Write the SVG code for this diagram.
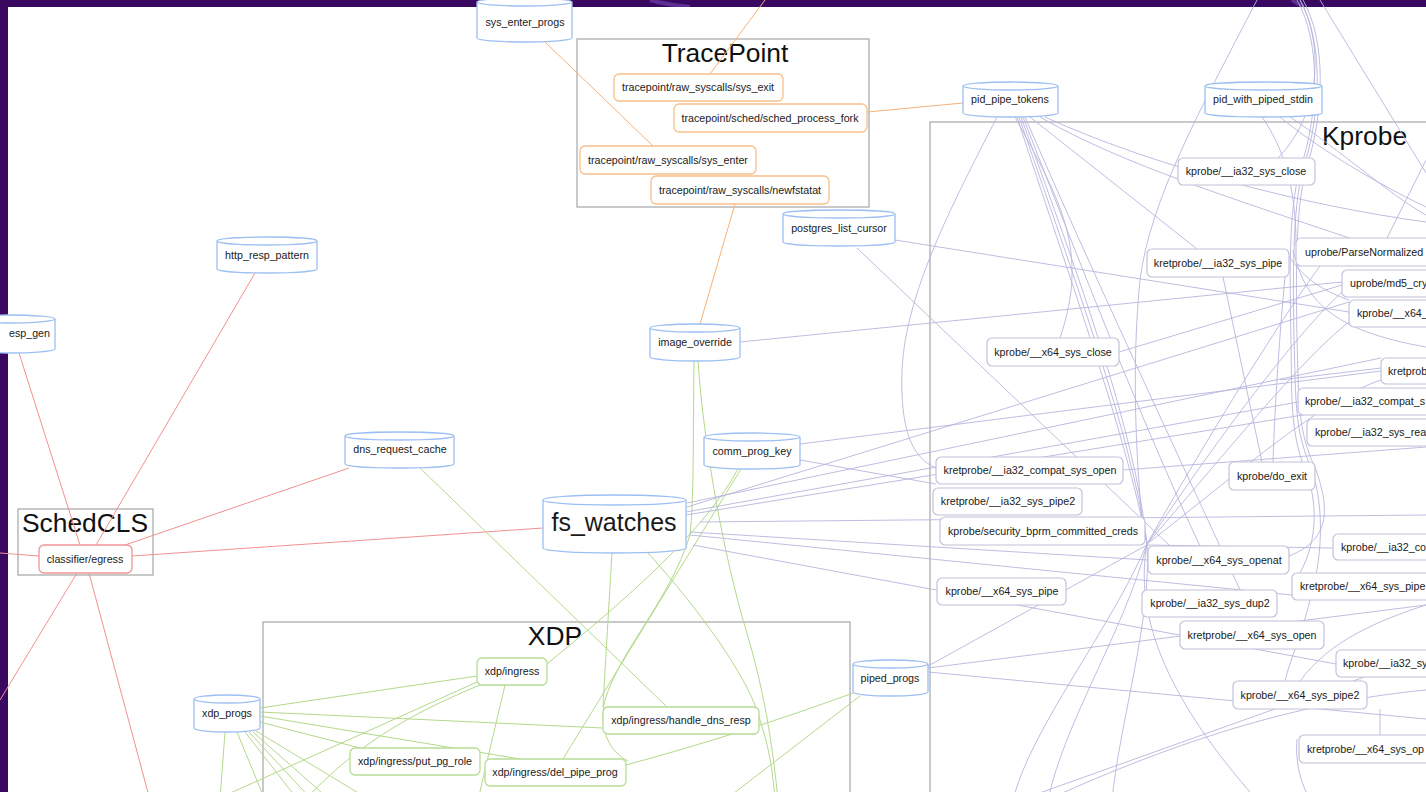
<svg xmlns="http://www.w3.org/2000/svg" width="1426" height="792" viewBox="0 0 1426 792">
<defs>
<style>
.t{font-family:"Liberation Sans",Arial,sans-serif;font-size:10.7px;fill:#1a1a1a;text-anchor:middle}
.ts{font-family:"Liberation Sans",Arial,sans-serif;font-size:10.7px;fill:#1a1a1a;text-anchor:start}
.title{font-family:"Liberation Sans",Arial,sans-serif;font-size:26.4px;fill:#111}
.cluster{fill:none;stroke:#a6a6a6;stroke-width:1.2}
.cyl{fill:#fff;stroke:#9dbff2;stroke-width:1.3}
.tp{fill:#fff;stroke:#f6c089;stroke-width:1.3}
.sc{fill:#fff;stroke:#ee9696;stroke-width:1.3}
.xd{fill:#fff;stroke:#b8dc94;stroke-width:1.3}
.kp{fill:#fff;stroke:#c2c2dc;stroke-width:1.2}
.eo{fill:none;stroke:#f7b27a;stroke-width:1}
.er{fill:none;stroke:#f19090;stroke-width:1}
.eg{fill:none;stroke:#b3d98a;stroke-width:1}
.el{fill:none;stroke:#b6b6de;stroke-width:0.9}
</style>
</defs>

<!-- slide frame -->
<rect x="0" y="0" width="1426" height="792" fill="#390961"/>
<path d="M650,0 C660,3 672,5 690,7" fill="none" stroke="#5d2f93" stroke-width="4"/>
<path d="M1292,0 C1296,3 1300,5 1304,7" fill="none" stroke="#5d2f93" stroke-width="4"/>
<rect x="8" y="7" width="1418" height="785" fill="#ffffff"/>

<!-- clusters -->
<g id="clusters">
<rect class="cluster" x="577" y="39" width="292" height="168"/>
<text class="title" x="725" y="62" text-anchor="middle">TracePoint</text>
<rect class="cluster" x="930" y="122" width="520" height="690"/>
<text class="title" x="1322" y="145">Kprobe</text>
<rect class="cluster" x="18" y="509" width="135" height="66"/>
<text class="title" x="85" y="532" text-anchor="middle">SchedCLS</text>
<rect class="cluster" x="263" y="622" width="587" height="190"/>
<text class="title" x="555" y="645" text-anchor="middle">XDP</text>
</g>

<!-- connectors -->
<g id="connectors">
<!-- tracepoint links -->
<path class="eo" d="M765,0 L710,74"/>
<path class="eo" d="M545,42 L653,146"/>
<path class="eo" d="M867,112 L963,103"/>
<path class="eo" d="M735,204 L700,324"/>
<!-- schedcls links -->
<path class="er" d="M19,353 L80,545"/>
<path class="er" d="M255,273 L96,545"/>
<path class="er" d="M349,468 L125,545"/>
<path class="er" d="M132,556 L543,528"/>
<path class="er" d="M0,553 L39,556"/>
<path class="er" d="M77,573 L0,700"/>
<path class="er" d="M89,573 L150,800"/>
<!-- xdp links -->
<path class="eg" d="M420,468 L667,707"/>
<path class="eg" d="M741,469 L563,759"/>
<path class="eg" d="M694,361 C693,440 694,500 690,535 C670,600 620,650 605,700 C598,730 610,752 628,761"/>
<path class="eg" d="M612,553 C608,620 605,670 603,707"/>
<path class="eg" d="M698,361 C704,450 725,560 746,630 C764,690 772,740 778,800"/>
<path class="eg" d="M738,469 C700,540 600,620 547,664"/>
<path class="eg" d="M648,553 C700,610 750,680 760,720 C770,750 773,775 775,800"/>
<path class="eg" d="M260,708 L477,676"/>
<path class="eg" d="M260,716 L520,759"/>
<path class="eg" d="M260,722 L360,748"/>
<path class="eg" d="M260,712 L603,728"/>
<path class="eg" d="M225,732 L220,800"/>
<path class="eg" d="M237,732 L265,800"/>
<path class="eg" d="M245,732 L298,800"/>
<path class="eg" d="M249,732 L312,800"/>
<path class="eg" d="M253,732 L330,800"/>
<path class="eg" d="M256,731 L370,800"/>
<path class="eg" d="M477,682 L215,800"/>
<path class="eg" d="M480,685 C420,710 360,740 305,800"/>
<path class="eg" d="M505,685 L478,800"/>
<path class="eg" d="M853,693 C780,720 700,745 626,765"/>
<path class="eg" d="M860,696 L725,800"/>
<!-- kprobe links -->
<path class="el" d="M997,117 C960,190 905,290 902,370 C900,430 912,458 936,468"/>
<path class="el" d="M1017,117 C1070,280 1125,430 1147,544 C1152,620 1120,720 1112,800"/>
<path class="el" d="M1019,117 C1075,280 1130,430 1147,544 C1125,630 1065,720 1048,800"/>
<path class="el" d="M1021,117 C1080,280 1135,430 1147,544 C1110,630 1030,730 1013,800"/>
<path class="el" d="M1023,117 C1090,290 1150,440 1200,546"/>
<path class="el" d="M1025,117 C1100,290 1190,480 1240,590"/>
<path class="el" d="M1045,117 C1150,165 1300,205 1426,222"/>
<path class="el" d="M1040,117 C1140,175 1290,215 1426,265"/>
<path class="el" d="M1030,117 L1197,249"/>
<path class="el" d="M1015,117 C1060,200 1090,250 1060,338"/>
<path class="el" d="M1257,0 C1200,110 1150,200 1140,280 C1132,360 1135,450 1143,530"/>
<path class="el" d="M1297,0 C1320,40 1320,110 1300,170 C1288,210 1290,280 1291,340 C1292,400 1290,430 1305,470 C1318,500 1318,540 1300,573"/>
<path class="el" d="M1300,0 C1323,40 1322,110 1303,170 C1292,210 1293,280 1294,340 C1296,400 1294,430 1312,470 C1325,510 1322,560 1310,600 C1300,640 1290,660 1285,681"/>
<path class="el" d="M1303,0 C1326,40 1325,110 1306,170 C1295,210 1296,280 1297,340 C1299,400 1297,430 1316,470 C1330,510 1330,540 1289,556"/>
<path class="el" d="M1300,0 C1322,40 1324,110 1278,158"/>
<path class="el" d="M1320,0 L1426,173"/>
<path class="el" d="M1387,238 L1426,160"/>
<path class="el" d="M1280,117 C1320,150 1380,185 1426,207"/>
<path class="el" d="M1290,117 C1340,150 1390,195 1426,215"/>
<path class="el" d="M1262,117 C1285,150 1296,190 1296,245"/>
<path class="el" d="M740,342 L1342,282"/>
<path class="el" d="M895,240 L1349,312"/>
<path class="el" d="M857,248 L1170,546"/>
<path class="el" d="M800,444 L1381,371"/>
<path class="el" d="M800,460 L936,484"/>
<path class="el" d="M687,507 L1349,302"/>
<path class="el" d="M687,503 L1381,358"/>
<path class="el" d="M686,512 L1298,402"/>
<path class="el" d="M686,515 L1426,395"/>
<path class="el" d="M700,522 L1426,515"/>
<path class="el" d="M690,532 L1148,560"/>
<path class="el" d="M690,535 L1292,595"/>
<path class="el" d="M693,545 L1336,664"/>
<path class="el" d="M928,666 L1147,545"/>
<path class="el" d="M928,668 L1426,605"/>
<path class="el" d="M928,672 L1426,719"/>
<path class="el" d="M1147,544 C1200,450 1280,320 1320,266"/>
<path class="el" d="M1147,544 C1210,450 1290,340 1342,292"/>
<path class="el" d="M1147,544 C1220,460 1300,360 1349,322"/>
<path class="el" d="M1147,544 C1230,480 1320,400 1381,380"/>
<path class="el" d="M1147,544 C1137,600 1150,680 1257,800"/>
<path class="el" d="M1147,545 L1333,548"/>
<path class="el" d="M1020,800 L1426,655"/>
<path class="el" d="M1047,800 C1200,730 1320,700 1426,690"/>
<path class="el" d="M1293,250 C1305,300 1330,330 1426,347"/>
<path class="el" d="M1287,253 C1300,275 1320,290 1349,300"/>
<path class="el" d="M1280,380 L1381,368"/>
<path class="el" d="M1380,709 L1380,735"/>
<path class="el" d="M1297,739 C1295,760 1300,782 1310,800"/>
<path class="el" d="M1426,605 C1380,620 1330,640 1300,681"/>
<path class="el" d="M1223,277 L1262,462"/>
<path class="el" d="M1273,462 C1275,400 1280,330 1285,277"/>
<path class="el" d="M1119,352 L1342,285"/>
<path class="el" d="M1123,470 L1426,447"/>
</g>

<!-- maps -->
<g id="sys_enter_progs"><path class="cyl" d="M477,2 A47.5,4 0 0 1 572,2 A47.5,4 0 0 1 477,2 M572,2 L572,38 A47.5,4 0 0 1 477,38 L477,2"/><text class="t" x="525" y="26">sys_enter_progs</text></g>
<g id="http_resp_pattern"><path class="cyl" d="M217,241 A50,4 0 0 1 317,241 A50,4 0 0 1 217,241 M317,241 L317,269 A50,4 0 0 1 217,269 L217,241"/><text class="t" x="267" y="259">http_resp_pattern</text></g>
<g id="resp_gen"><path class="cyl" d="M-40,319 A47.5,4 0 0 1 55,319 A47.5,4 0 0 1 -40,319 M55,319 L55,349 A47.5,4 0 0 1 -40,349 L-40,319"/><text class="ts" x="9" y="337">esp_gen</text></g>
<g id="dns_request_cache"><path class="cyl" d="M345,436 A54.5,4 0 0 1 454,436 A54.5,4 0 0 1 345,436 M454,436 L454,464 A54.5,4 0 0 1 345,464 L345,436"/><text class="t" x="400" y="453">dns_request_cache</text></g>
<g id="image_override"><path class="cyl" d="M650,328 A45,4 0 0 1 740,328 A45,4 0 0 1 650,328 M740,328 L740,357 A45,4 0 0 1 650,357 L650,328"/><text class="t" x="695" y="346">image_override</text></g>
<g id="comm_prog_key"><path class="cyl" d="M704,437 A48,4 0 0 1 800,437 A48,4 0 0 1 704,437 M800,437 L800,465 A48,4 0 0 1 704,465 L704,437"/><text class="t" x="752" y="455">comm_prog_key</text></g>
<g id="fs_watches"><path class="cyl" d="M543,500 A71.5,5 0 0 1 686,500 A71.5,5 0 0 1 543,500 M686,500 L686,548 A71.5,5 0 0 1 543,548 L543,500"/><text class="t" x="614" y="531" style="font-size:25px">fs_watches</text></g>
<g id="postgres_list_cursor"><path class="cyl" d="M783,214 A56,4 0 0 1 895,214 A56,4 0 0 1 783,214 M895,214 L895,242 A56,4 0 0 1 783,242 L783,214"/><text class="t" x="839" y="232">postgres_list_cursor</text></g>
<g id="pid_pipe_tokens"><path class="cyl" d="M963,86 A47.5,4 0 0 1 1058,86 A47.5,4 0 0 1 963,86 M1058,86 L1058,113 A47.5,4 0 0 1 963,113 L963,86"/><text class="t" x="1010" y="103">pid_pipe_tokens</text></g>
<g id="pid_with_piped_stdin"><path class="cyl" d="M1205,86 A58.5,4 0 0 1 1322,86 A58.5,4 0 0 1 1205,86 M1322,86 L1322,113 A58.5,4 0 0 1 1205,113 L1205,86"/><text class="t" x="1263" y="103">pid_with_piped_stdin</text></g>
<g id="xdp_progs"><path class="cyl" d="M194,699 A33,4 0 0 1 260,699 A33,4 0 0 1 194,699 M260,699 L260,728 A33,4 0 0 1 194,728 L194,699"/><text class="t" x="227" y="717">xdp_progs</text></g>
<g id="piped_progs"><path class="cyl" d="M853,664 A37.5,4 0 0 1 928,664 A37.5,4 0 0 1 853,664 M928,664 L928,692 A37.5,4 0 0 1 853,692 L853,664"/><text class="t" x="890" y="682">piped_progs</text></g>

<!-- tracepoint programs -->
<g id="tp_sys_exit"><rect class="tp" x="614" y="74" width="169" height="27" rx="5"/><text class="t" x="698" y="91">tracepoint/raw_syscalls/sys_exit</text></g>
<g id="tp_sched_process_fork"><rect class="tp" x="674" y="104" width="193" height="28" rx="5"/><text class="t" x="770" y="122">tracepoint/sched/sched_process_fork</text></g>
<g id="tp_sys_enter"><rect class="tp" x="580" y="146" width="176" height="28" rx="5"/><text class="t" x="668" y="164">tracepoint/raw_syscalls/sys_enter</text></g>
<g id="tp_newfstatat"><rect class="tp" x="651" y="176" width="178" height="28" rx="5"/><text class="t" x="740" y="194">tracepoint/raw_syscalls/newfstatat</text></g>

<!-- schedcls program -->
<g id="classifier_egress"><rect class="sc" x="39" y="545" width="93" height="28" rx="5"/><text class="t" x="85" y="563">classifier/egress</text></g>

<!-- xdp programs -->
<g id="xdp_ingress"><rect class="xd" x="477" y="658" width="70" height="27" rx="5"/><text class="t" x="512" y="675">xdp/ingress</text></g>
<g id="xdp_handle_dns_resp"><rect class="xd" x="603" y="707" width="156" height="27" rx="5"/><text class="t" x="681" y="724">xdp/ingress/handle_dns_resp</text></g>
<g id="xdp_put_pg_role"><rect class="xd" x="350" y="748" width="130" height="27" rx="5"/><text class="t" x="415" y="765">xdp/ingress/put_pg_role</text></g>
<g id="xdp_del_pipe_prog"><rect class="xd" x="485" y="759" width="141" height="27" rx="5"/><text class="t" x="555" y="776">xdp/ingress/del_pipe_prog</text></g>

<!-- kprobe programs -->
<g id="kp_ia32_sys_close"><rect class="kp" x="1178" y="158" width="137" height="27" rx="5"/><text class="t" x="1246" y="175">kprobe/__ia32_sys_close</text></g>
<g id="krp_ia32_sys_pipe"><rect class="kp" x="1147" y="249" width="142" height="28" rx="5"/><text class="t" x="1218" y="267">kretprobe/__ia32_sys_pipe</text></g>
<g id="up_parse_normalized"><rect class="kp" x="1296" y="238" width="150" height="28" rx="5"/><text class="ts" x="1305" y="256">uprobe/ParseNormalized</text></g>
<g id="up_md5"><rect class="kp" x="1342" y="270" width="100" height="27" rx="5"/><text class="ts" x="1350" y="287">uprobe/md5_cry</text></g>
<g id="kp_x64_a"><rect class="kp" x="1349" y="300" width="90" height="27" rx="5"/><text class="ts" x="1357" y="317">kprobe/__x64_</text></g>
<g id="krp_a"><rect class="kp" x="1381" y="358" width="60" height="26" rx="5"/><text class="ts" x="1388" y="375">kretprob</text></g>
<g id="kp_ia32_compat_s"><rect class="kp" x="1298" y="388" width="140" height="27" rx="5"/><text class="ts" x="1305" y="405">kprobe/__ia32_compat_s</text></g>
<g id="kp_ia32_sys_rea"><rect class="kp" x="1307" y="419" width="130" height="27" rx="5"/><text class="ts" x="1315" y="436">kprobe/__ia32_sys_rea</text></g>
<g id="kp_do_exit"><rect class="kp" x="1229" y="462" width="86" height="28" rx="5"/><text class="t" x="1272" y="480">kprobe/do_exit</text></g>
<g id="kp_x64_sys_close"><rect class="kp" x="987" y="338" width="132" height="28" rx="5"/><text class="t" x="1053" y="356">kprobe/__x64_sys_close</text></g>
<g id="krp_ia32_compat_sys_open"><rect class="kp" x="936" y="457" width="187" height="27" rx="5"/><text class="t" x="1030" y="474">kretprobe/__ia32_compat_sys_open</text></g>
<g id="krp_ia32_sys_pipe2"><rect class="kp" x="933" y="488" width="149" height="27" rx="5"/><text class="t" x="1008" y="505">kretprobe/__ia32_sys_pipe2</text></g>
<g id="kp_security_bprm"><rect class="kp" x="940" y="517" width="205" height="28" rx="5"/><text class="t" x="1043" y="535">kprobe/security_bprm_committed_creds</text></g>
<g id="kp_x64_sys_openat"><rect class="kp" x="1148" y="546" width="141" height="28" rx="5"/><text class="t" x="1219" y="564">kprobe/__x64_sys_openat</text></g>
<g id="kp_ia32_co"><rect class="kp" x="1333" y="534" width="110" height="26" rx="5"/><text class="ts" x="1341" y="551">kprobe/__ia32_co</text></g>
<g id="krp_x64_sys_pipe2"><rect class="kp" x="1292" y="573" width="150" height="27" rx="5"/><text class="ts" x="1300" y="590">kretprobe/__x64_sys_pipe</text></g>
<g id="kp_x64_sys_pipe"><rect class="kp" x="937" y="578" width="129" height="27" rx="5"/><text class="t" x="1002" y="595">kprobe/__x64_sys_pipe</text></g>
<g id="kp_ia32_sys_dup2"><rect class="kp" x="1142" y="590" width="135" height="27" rx="5"/><text class="t" x="1210" y="607">kprobe/__ia32_sys_dup2</text></g>
<g id="krp_x64_sys_open"><rect class="kp" x="1180" y="621" width="144" height="28" rx="5"/><text class="t" x="1252" y="639">kretprobe/__x64_sys_open</text></g>
<g id="kp_ia32_sy"><rect class="kp" x="1336" y="650" width="104" height="27" rx="5"/><text class="ts" x="1343" y="667">kprobe/__ia32_sy</text></g>
<g id="kp_x64_sys_pipe2"><rect class="kp" x="1233" y="681" width="134" height="28" rx="5"/><text class="t" x="1300" y="699">kprobe/__x64_sys_pipe2</text></g>
<g id="krp_x64_sys_ope"><rect class="kp" x="1299" y="735" width="140" height="28" rx="5"/><text class="ts" x="1307" y="753">kretprobe/__x64_sys_op</text></g>
</svg>
